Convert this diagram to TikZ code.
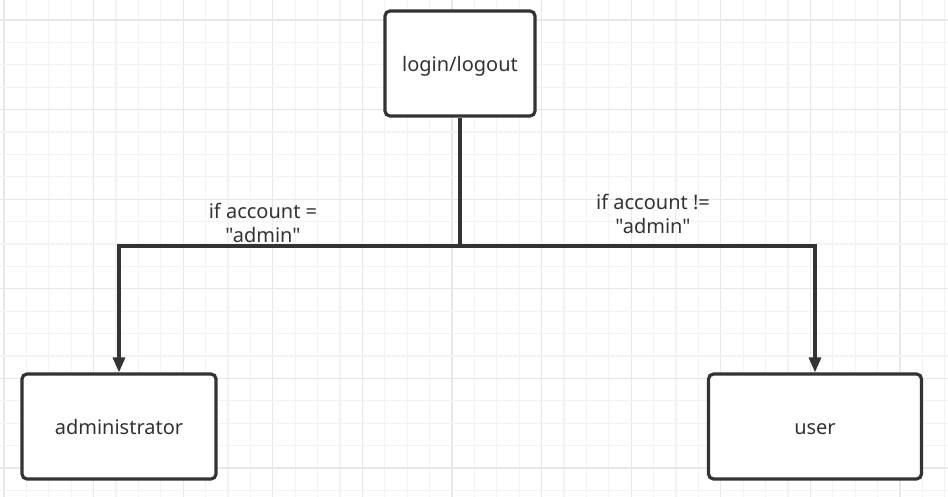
\documentclass[tikz,border=0pt]{standalone}
\usepackage{fontspec}
\setmainfont[Ligatures=TeXOff]{Noto Sans}
\usetikzlibrary{arrows.meta}
\definecolor{gridminor}{HTML}{F3F3F3}
\definecolor{gridmajor}{HTML}{E8E8E8}
\definecolor{ink}{HTML}{333333}
\newcommand{\boxtext}[1]{\raisebox{-8pt}[0pt][0pt]{#1}}
\tikzset{
  box/.style={draw=ink, line width=3.2pt, rounded corners=5pt, fill=white, inner sep=0pt, text=ink, font=\fontsize{20}{24}\selectfont},
  conn/.style={draw=ink, line width=3.2pt},
  arr/.style={conn, -{Triangle[length=15pt,width=12pt]}},
  lbl/.style={text=ink, align=center, font=\fontsize{20}{24}\selectfont, inner sep=0pt},
}
\begin{document}
\begin{tikzpicture}[x=1pt,y=-1pt]
\useasboundingbox (0,0) rectangle (948,497);
\fill[white] (0,0) rectangle (948,497);
% grid
\foreach \i in {0,...,42} {
  \pgfmathsetmacro{\xx}{4+22.4*\i}
  \pgfmathtruncatemacro{\mm}{mod(\i,4)}
  \ifnum\mm=0
    \draw[gridmajor, line width=1.3pt] (\xx,0) -- (\xx,497);
  \else
    \draw[gridminor, line width=1.3pt] (\xx,0) -- (\xx,497);
  \fi
}
\foreach \j in {-1,...,22} {
  \pgfmathsetmacro{\yy}{20+22.4*\j}
  \pgfmathtruncatemacro{\mm}{mod(\j+4,4)}
  \ifnum\mm=0
    \draw[gridmajor, line width=1.3pt] (0,\yy) -- (948,\yy);
  \else
    \draw[gridminor, line width=1.3pt] (0,\yy) -- (948,\yy);
  \fi
}
% nodes
\node[box, minimum width=150pt, minimum height=105pt] (login) at (460,63.5) {\boxtext{login/logout}};
\node[box, minimum width=194pt, minimum height=105pt] (admin) at (119,426.5) {\boxtext{administrator}};
\node[box, minimum width=213pt, minimum height=105pt] (user) at (815,426.5) {\boxtext{user}};
\coordinate (split) at (460,246);
% connectors
\draw[conn] (login.south) -- (split);
\draw[arr] (split) -| (admin.north);
\draw[arr] (split) -| (user.north);
% labels
\node[lbl] (l1) at (263,223) {if account =\\"admin"};
\node[lbl] (l2) at (653,214) {if account !=\\"admin"};
\end{tikzpicture}
\end{document}
